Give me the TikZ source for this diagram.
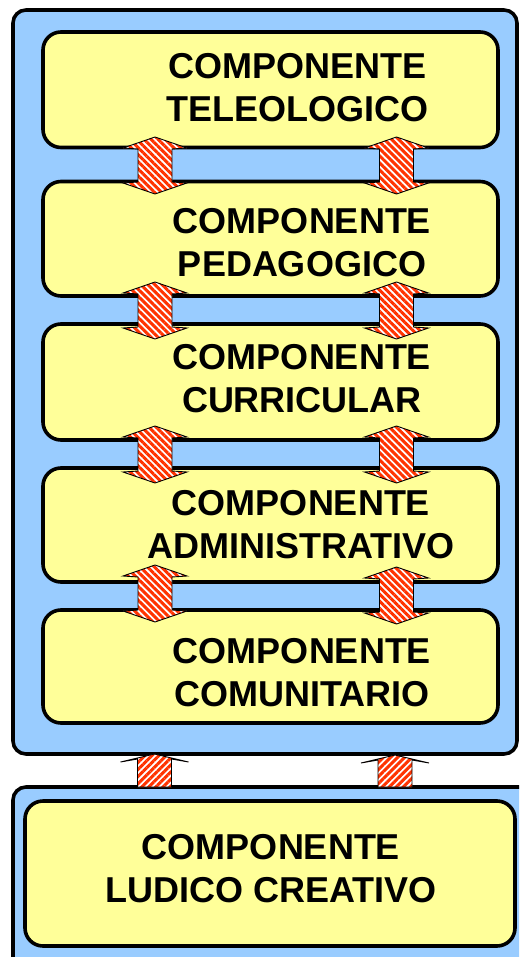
\documentclass[tikz,border=0pt]{standalone}
\usepackage{fontspec}
\setmainfont{Liberation Sans}
\usetikzlibrary{patterns.meta}
\definecolor{panelblue}{RGB}{153,204,255}
\definecolor{boxyellow}{RGB}{255,255,153}
\definecolor{stripered}{RGB}{255,51,0}
\tikzset{
  panel/.style={draw=black, line width=3.6pt, fill=panelblue, rounded corners=13pt},
  ybox/.style={draw=black, line width=3.6pt, fill=boxyellow, rounded corners=18pt,
    rectangle, inner sep=0pt, outer sep=0pt},
  txt/.style={font=\bfseries\fontsize{36}{43}\selectfont, align=center, inner sep=0pt},
  stripesA/.style={preaction={fill=white},
    preaction={pattern={Lines[angle=-45,distance=5pt,line width=3pt]}, pattern color=stripered},
    draw=black, line width=0.9pt, line join=miter},
  stripesB/.style={preaction={fill=white},
    preaction={pattern={Lines[angle=45,distance=5pt,line width=3pt]}, pattern color=stripered},
    draw=black, line width=0.9pt, line join=miter},
  dblarrow/.pic={
    \path[stripesA] (0,0) -- (32,11) -- (17,12) -- (17,#1-12) -- (32,#1-11) -- (0,#1)
      -- (-32,#1-11) -- (-17,#1-12) -- (-17,12) -- (-32,11) -- cycle;
  },
  uparrow/.pic={
    \path[stripesB] (0,0) -- (34,8) -- (17,5) -- (17,#1) -- (-17,#1) -- (-17,5) -- (-34,8) -- cycle;
  },
}
\begin{document}
\begin{tikzpicture}[x=1pt,y=-1pt]
\useasboundingbox (0,0) rectangle (519,957);
\clip (0,0) rectangle (519,957);
% panels
\path[panel] (13,10) rectangle (517,754);
\path[panel] (13,787) rectangle (545,990);
% yellow boxes
\node[ybox, minimum width=455pt, minimum height=115.5pt] (b1) at (270.5,89.75) {};
\node[ybox, minimum width=455pt, minimum height=114.5pt] (b2) at (270.5,238.75) {};
\node[ybox, minimum width=455pt, minimum height=116pt] (b3) at (270.5,382) {};
\node[ybox, minimum width=455pt, minimum height=114pt] (b4) at (270.5,525) {};
\node[ybox, minimum width=455pt, minimum height=113pt] (b5) at (270.5,666.5) {};
\node[ybox, minimum width=490pt, minimum height=145pt] (b6) at (270,873.5) {};
% arrows
\pic at (155,137) {dblarrow=57};
\pic at (396.5,137) {dblarrow=57};
\pic at (155,282) {dblarrow=57};
\pic at (396.5,282) {dblarrow=57};
\pic at (155,426) {dblarrow=57};
\pic at (396.5,426) {dblarrow=57};
\pic at (155,565) {dblarrow=57};
\pic at (396.5,567) {dblarrow=57};
\pic at (154.5,754) {uparrow=33};
\pic at (395,755) {uparrow=32};
% texts
\node[txt] (t1) at (297.5,88) {COMPONENTE\\TELEOLOGICO};
\node[txt] (t2) at (302,243) {COMPONENTE\\PEDAGOGICO};
\node[txt] (t3) at (302,379) {COMPONENTE\\CURRICULAR};
\node[txt] (t4) at (301,525) {COMPONENTE\\ADMINISTRATIVO};
\node[txt] (t5) at (302,673) {COMPONENTE\\COMUNITARIO};
\node[txt] (t6) at (271,869) {COMPONENTE\\LUDICO CREATIVO};
\end{tikzpicture}
\end{document}
